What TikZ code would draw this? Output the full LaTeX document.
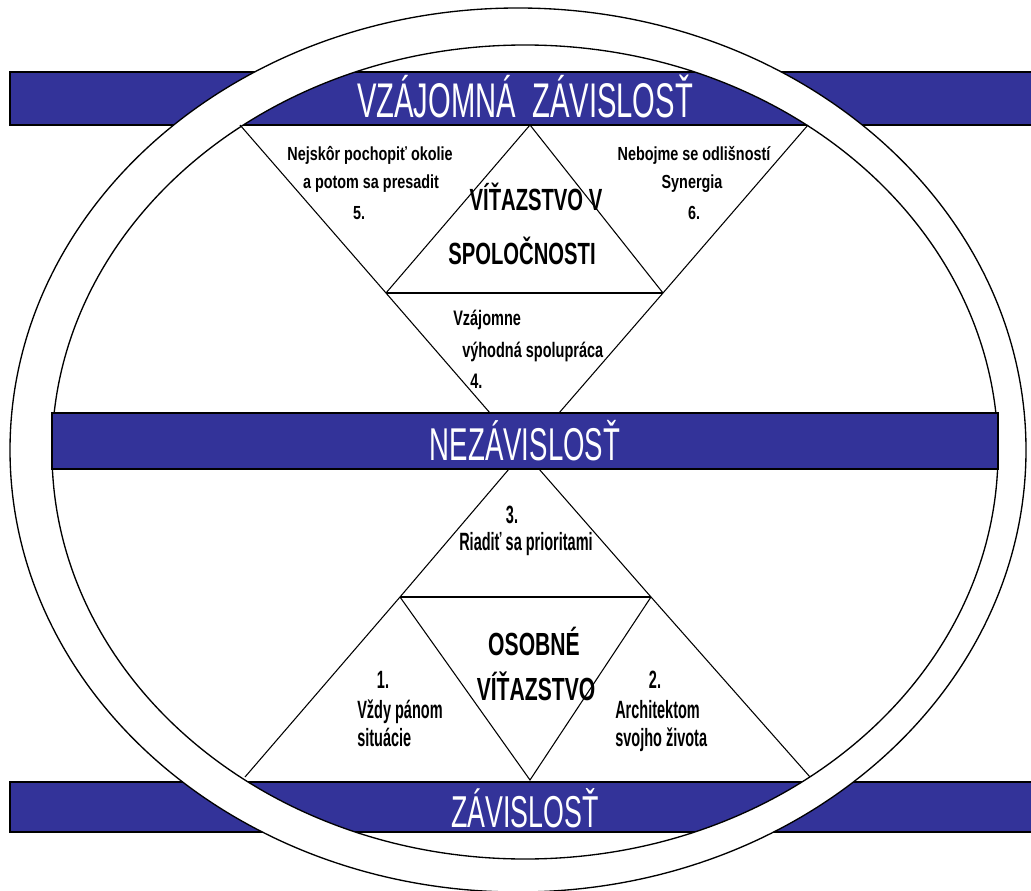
\documentclass[tikz,border=0pt]{standalone}
\usepackage{fontspec}
\setmainfont{Liberation Sans}
\newfontfamily\barfont[FakeStretch=0.6]{Liberation Sans}
\newfontfamily\headfont[FakeStretch=0.66]{Liberation Sans}
\newfontfamily\notefontA[FakeStretch=0.76]{Liberation Sans}
\newfontfamily\notefontB[FakeStretch=0.69]{Liberation Sans}
\newfontfamily\notefontC[FakeStretch=0.58]{Liberation Sans}
\definecolor{barblue}{RGB}{51,51,153}

\begin{document}
\begin{tikzpicture}[x=0.75pt,y=-0.75pt,
    bar/.style={fill=barblue,draw=black,line width=1pt},
    barlabel/.style={text=white,anchor=base,inner sep=0pt},
    headlabel/.style={anchor=base,inner sep=0pt,font=\headfont\bfseries\fontsize{23}{26}\selectfont},
    notetext/.style={anchor=base,inner sep=0pt},
    notewest/.style={anchor=base west,inner sep=0pt},
    thinline/.style={line width=0.8pt},
    sepline/.style={line width=1.5pt}]
    \useasboundingbox (0,0) rectangle (1031,891);
    \draw[bar] (10,72) rectangle (1045,125); % pruh hore
    \draw[bar] (10,782) rectangle (1045,832); % pruh dole
    \fill[white,even odd rule] (518,450) ellipse [x radius=508,y radius=442]
        (525,452) ellipse [x radius=473,y radius=407]; % prstenec
    \draw[line width=1pt] (518,450) ellipse [x radius=508,y radius=442];
    \draw[line width=1pt] (525,452) ellipse [x radius=473,y radius=407];
    \draw[bar] (52,413) rectangle (998,469); % pruh v strede
    % horna cast
    \coordinate (ul) at (240,125);
    \coordinate (ur) at (808,125);
    \coordinate (ua) at (530,125);
    \coordinate (uml) at (386,293);
    \coordinate (umr) at (663,293);
    \coordinate (ubl) at (490,413);
    \coordinate (ubr) at (559,413);
    \draw[thinline] (ul) -- (uml) -- (ubl);
    \draw[thinline] (ur) -- (umr) -- (ubr);
    \draw[thinline] (uml) -- (ua) -- (umr);
    \draw[sepline] (uml) -- (umr);
    % dolna cast
    \coordinate (ltl) at (509,469);
    \coordinate (ltr) at (539,469);
    \coordinate (lml) at (400,597);
    \coordinate (lmr) at (651,597);
    \coordinate (lbl) at (245,777);
    \coordinate (lbr) at (810,777);
    \coordinate (la) at (530,780);
    \draw[thinline] (ltl) -- (lml) -- (lbl);
    \draw[thinline] (ltr) -- (lmr) -- (lbr);
    \draw[thinline] (lml) -- (la) -- (lmr);
    \draw[sepline] (lml) -- (lmr);
    % texty v pruhoch
    \node[barlabel,font=\barfont\fontsize{36.5}{40}\selectfont] (vzajomna) at (525,118) {VZÁJOMNÁ\ \ ZÁVISLOSŤ};
    \node[barlabel,font=\barfont\fontsize{34.5}{38}\selectfont] (nezavislost) at (525,460) {NEZÁVISLOSŤ};
    \node[barlabel,font=\barfont\fontsize{33.5}{37}\selectfont] (zavislost) at (525,827) {ZÁVISLOSŤ};
    % nadpisy
    \node[headlabel] (vitazstvoA) at (536,211) {VÍŤAZSTVO V};
    \node[headlabel] (spolocnosti) at (522,265) {SPOLOČNOSTI};
    \node[headlabel,font=\headfont\bfseries\fontsize{24}{27}\selectfont] (osobne) at (534,655) {OSOBNÉ};
    \node[headlabel,font=\headfont\bfseries\fontsize{24}{27}\selectfont] (vitazstvoB) at (536,700) {VÍŤAZSTVO};
    % body 5 a 6
    \node[notetext,font=\notefontA\bfseries\fontsize{14.2}{17}\selectfont] (fiveA) at (370,161) {Nejskôr pochopiť okolie};
    \node[notetext,font=\notefontA\bfseries\fontsize{14.2}{17}\selectfont] (fiveB) at (371,189) {a potom sa presadit};
    \node[notetext,font=\notefontA\bfseries\fontsize{14.2}{17}\selectfont] (fiveC) at (359,220) {5.};
    \node[notetext,font=\notefontA\bfseries\fontsize{14.2}{17}\selectfont] (sixA) at (694,161) {Nebojme se odlišností};
    \node[notetext,font=\notefontA\bfseries\fontsize{14.2}{17}\selectfont] (sixB) at (692,189) {Synergia};
    \node[notetext,font=\notefontA\bfseries\fontsize{14.2}{17}\selectfont] (sixC) at (694,220) {6.};
    % bod 4
    \node[notewest,font=\notefontB\bfseries\fontsize{15.75}{19}\selectfont] (fourA) at (453,325) {Vzájomne};
    \node[notewest,font=\notefontB\bfseries\fontsize{15.75}{19}\selectfont] (fourB) at (462,357) {výhodná spolupráca};
    \node[notewest,font=\notefontB\bfseries\fontsize{15.75}{19}\selectfont] (fourC) at (470,388) {4.};
    % body 3, 1 a 2
    \node[notetext,font=\notefontC\bfseries\fontsize{18.75}{22}\selectfont] (threeA) at (512,523) {3.};
    \node[notetext,font=\notefontC\bfseries\fontsize{18.75}{22}\selectfont] (threeB) at (526,550) {Riadiť sa prioritami};
    \node[notetext,font=\notefontC\bfseries\fontsize{18.75}{22}\selectfont] (oneA) at (383,688) {1.};
    \node[notewest,font=\notefontC\bfseries\fontsize{18.75}{22}\selectfont] (oneB) at (357,718) {Vždy pánom};
    \node[notewest,font=\notefontC\bfseries\fontsize{18.75}{22}\selectfont] (oneC) at (357,746) {situácie};
    \node[notetext,font=\notefontC\bfseries\fontsize{18.75}{22}\selectfont] (twoA) at (655,688) {2.};
    \node[notewest,font=\notefontC\bfseries\fontsize{18.75}{22}\selectfont] (twoB) at (615,718) {Architektom};
    \node[notewest,font=\notefontC\bfseries\fontsize{18.75}{22}\selectfont] (twoC) at (615,746) {svojho života};
\end{tikzpicture}
\end{document}
